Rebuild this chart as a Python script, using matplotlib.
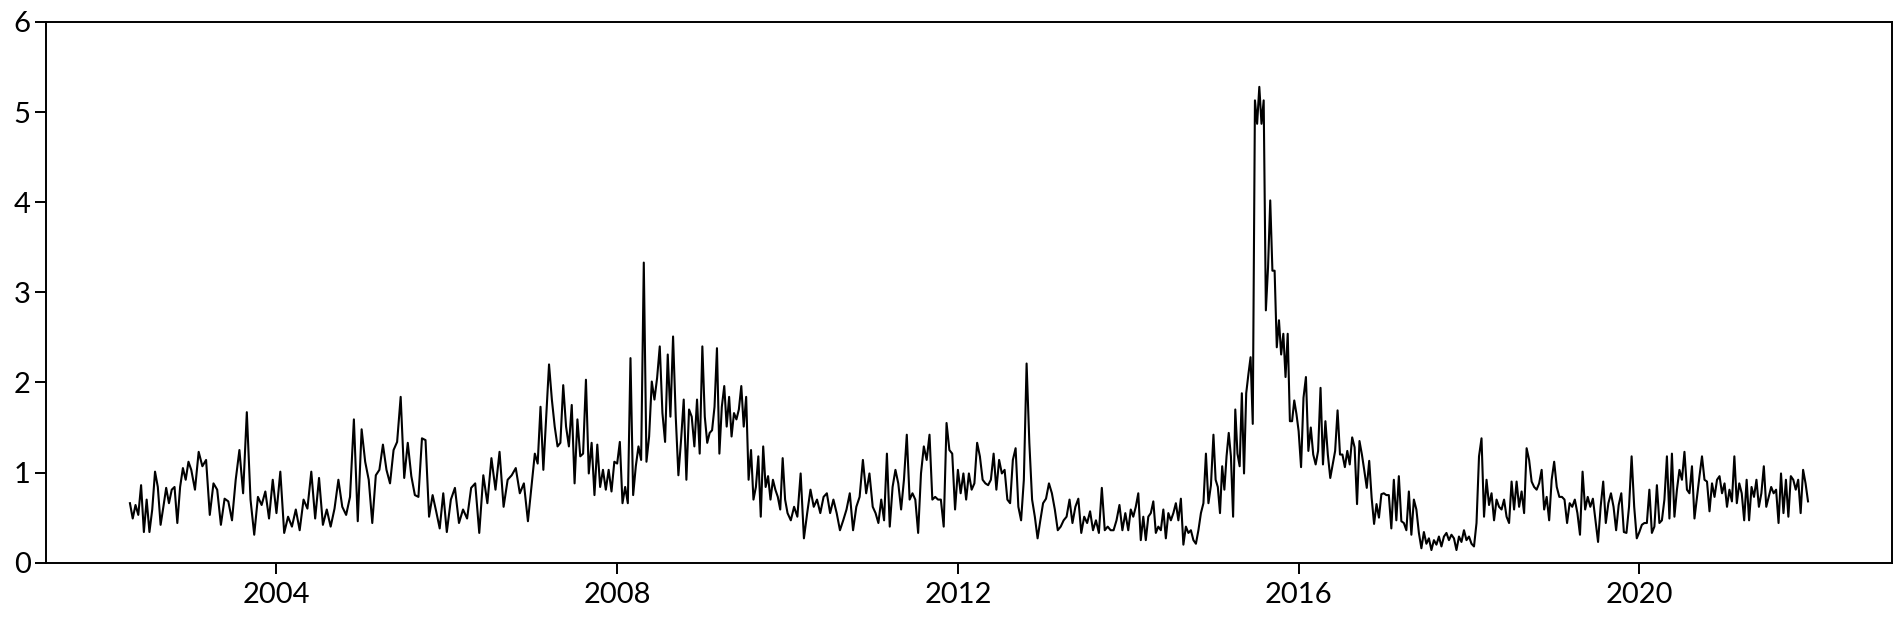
import numpy as np
import matplotlib
matplotlib.use("Agg")
import matplotlib.pyplot as plt

# ---- data: values, grouped by calendar year ----
series_start = 2002.28
series_end = 2021.98

v2002 = [0.66,0.49,0.64,0.53,0.86,0.34,0.70,0.34,0.59,1.01,0.84,0.42,0.62,0.83,0.66,0.81,0.84,0.44,0.84,1.05,0.92,1.12]
v2003 = [1.03,0.81,1.23,1.07,1.14,0.53,0.88,0.81,0.42,0.71,0.68,0.47,0.92,1.25,0.77,1.67,0.70,0.31,0.73,0.64,0.79,0.49,0.92]
v2004 = [0.55,1.01,0.33,0.51,0.40,0.59,0.36,0.70,0.60,1.01,0.49,0.94,0.42,0.59,0.40,0.60,0.92,0.62,0.53,0.73,1.59,0.46]
v2005 = [1.48,1.12,0.92,0.44,0.97,1.03,1.31,1.03,0.88,1.25,1.34,1.84,0.94,1.33,0.96,0.75,0.73,1.38,1.36,0.51,0.75,0.57,0.38,0.77]
v2006 = [0.34,0.70,0.83,0.44,0.59,0.49,0.83,0.88,0.33,0.97,0.66,1.16,0.81,1.23,0.62,0.92,0.97,1.05,0.77,0.88,0.46]
v2007 = [0.90,1.21,1.10,1.73,1.03,1.62,2.20,1.81,1.51,1.29,1.33,1.97,1.51,1.29,1.75,0.88,1.59,1.18,1.21,2.03,0.99,1.33,0.75,1.31,0.84,1.03,0.81,1.03,0.79,1.12]
v2008 = [1.10,1.34,0.66,0.84,0.66,2.27,0.75,1.07,1.29,1.14,3.33,1.12,1.40,2.01,1.81,2.05,2.40,1.66,1.34,2.31,1.62,2.51,1.62,0.97,1.36,1.81,0.92,1.70,1.62,1.29,1.81,1.21]
v2009 = [2.40,1.62,1.33,1.44,1.47,1.73,2.38,1.21,1.73,1.96,1.51,1.84,1.40,1.66,1.59,1.70,1.96,1.51,1.84,0.92,1.25,0.70,0.84,1.18,0.51,1.29,0.84,0.96,0.70,0.92,0.81,0.73,0.59,1.16,0.70]
v2010 = [0.55,0.47,0.62,0.51,0.99,0.27,0.55,0.81,0.62,0.70,0.55,0.73,0.77,0.55,0.70,0.55,0.36,0.47,0.59,0.77,0.36,0.62,0.73,1.14,0.77,0.99]
v2011 = [0.62,0.55,0.44,0.70,0.47,1.21,0.40,0.84,1.03,0.88,0.59,0.92,1.42,0.70,0.77,0.70,0.33,0.99,1.29,1.14,1.42,0.70,0.73,0.70,0.70,0.40,1.55,1.25,1.21,0.59]
v2012 = [1.03,0.77,0.99,0.70,0.99,0.81,0.88,1.33,1.18,0.92,0.88,0.86,0.92,1.21,0.81,1.14,0.99,1.03,0.70,0.66,1.14,1.27,0.62,0.47,0.92,2.21,1.33,0.70,0.51,0.27,0.47]
v2013 = [0.66,0.71,0.88,0.77,0.59,0.36,0.40,0.47,0.51,0.70,0.44,0.62,0.71,0.33,0.51,0.44,0.57,0.36,0.47,0.33,0.83,0.36,0.40,0.36,0.36,0.47,0.64,0.36,0.55]
v2014 = [0.36,0.59,0.51,0.62,0.77,0.25,0.51,0.25,0.51,0.55,0.68,0.33,0.40,0.36,0.59,0.27,0.55,0.47,0.55,0.66,0.47,0.71,0.20,0.40,0.33,0.36,0.25,0.21,0.36,0.55,0.66,1.21,0.66,0.86]
v2015 = [1.42,0.92,0.84,0.55,1.07,0.81,1.18,1.44,1.18,0.51,1.70,1.21,1.07,1.88,0.99,1.88,2.09,2.28,1.54,5.13,4.87,5.28,4.87,5.13,2.80,3.28,4.02,3.24,3.24,2.39,2.69,2.31,2.54,2.06,2.54,1.57,1.57,1.80,1.65]
v2016 = [1.46,1.06,1.83,2.06,1.24,1.50,1.20,1.09,1.24,1.94,1.09,1.57,1.20,0.94,1.09,1.24,1.69,1.20,1.20,1.06,1.24,1.09,1.39,1.28,0.65,1.35,1.20,1.02,0.83,1.13,0.72,0.43,0.65,0.50,0.76]
v2017 = [0.77,0.75,0.75,0.38,0.92,0.47,0.96,0.46,0.44,0.36,0.79,0.31,0.70,0.59,0.33,0.16,0.34,0.21,0.27,0.14,0.25,0.20,0.29,0.18,0.29,0.33,0.25,0.31,0.27,0.14,0.29,0.23,0.36,0.25]
v2018 = [0.29,0.21,0.18,0.44,1.18,1.38,0.51,0.92,0.64,0.77,0.47,0.70,0.62,0.59,0.70,0.51,0.44,0.90,0.59,0.90,0.62,0.79,0.55,1.27,1.14,0.90,0.84,0.81,0.88,1.03,0.59,0.73,0.47,0.92]
v2019 = [1.12,0.84,0.73,0.73,0.70,0.44,0.66,0.62,0.70,0.55,0.31,1.01,0.59,0.73,0.62,0.71,0.47,0.23,0.62,0.90,0.44,0.66,0.77,0.62,0.36,0.64,0.77,0.34,0.33,0.62,1.18,0.62,0.27]
v2020 = [0.34,0.42,0.44,0.44,0.81,0.33,0.40,0.86,0.44,0.47,0.70,1.18,0.49,1.21,0.51,0.81,1.03,0.92,1.23,0.81,0.77,1.07,0.49,0.73,0.96,1.18,0.92,0.90,0.57,0.88,0.73,0.92,0.96,0.77]
v2021 = [0.88,0.62,0.81,0.68,1.18,0.66,0.88,0.77,0.47,0.92,0.47,0.84,0.73,0.92,0.62,0.77,1.07,0.62,0.73,0.84,0.77,0.81,0.44,0.99,0.55,0.92,0.51,0.96,0.92,0.81,0.92,0.55,1.03,0.88,0.68]

yearly = {2002: v2002, 2003: v2003, 2004: v2004, 2005: v2005, 2006: v2006,
          2007: v2007, 2008: v2008, 2009: v2009, 2010: v2010, 2011: v2011,
          2012: v2012, 2013: v2013, 2014: v2014, 2015: v2015, 2016: v2016,
          2017: v2017, 2018: v2018, 2019: v2019, 2020: v2020, 2021: v2021}

x_ticks = [2004, 2008, 2012, 2016, 2020]
y_ticks = [0, 1, 2, 3, 4, 5, 6]

# ---- build time axis (decimal years) ----
xs, ys = [], []
for yr, vals in yearly.items():
    n = len(vals)
    if yr == 2002:
        t = np.linspace(series_start, yr + 1, n, endpoint=False)
    elif yr == 2021:
        t = np.linspace(yr, series_end, n)
    else:
        t = np.linspace(yr, yr + 1, n, endpoint=False)
    xs.extend(t)
    ys.extend(vals)
xs = np.array(xs)
ys = np.array(ys)

plt.rcParams['font.family'] = ['Lato', 'DejaVu Sans']

fig = plt.figure(figsize=(19.02, 6.19), dpi=100)
ax = fig.add_axes([0.0242, 0.0910, 0.9705, 0.8735])
ax.plot(xs, ys, color='black', linewidth=1.5)

ax.set_ylim(0, 6)
ax.set_yticks(y_ticks)
ax.set_xticks(x_ticks)
ax.set_xticklabels([str(v) for v in x_ticks])
ax.tick_params(axis='both', labelsize=21, length=8, width=1.4, color='black')
ax.tick_params(axis='y', pad=3)
ax.tick_params(axis='x', pad=6)
for s in ax.spines.values():
    s.set_linewidth(1.4)

fig.savefig('out.png', dpi=100)
